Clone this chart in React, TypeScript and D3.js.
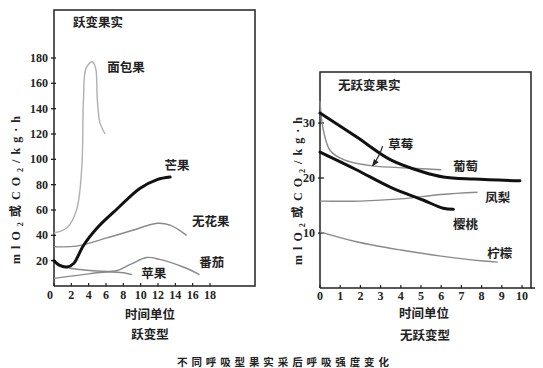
import React from 'react';
import * as d3 from 'd3';

// ---- climacteric (left) ----
const leftXTicks = [0, 2, 4, 6, 8, 10, 12, 14, 16, 18];
const leftYTicks = [20, 40, 60, 80, 100, 120, 140, 160, 180];

const breadfruit = [[0, 42], [1.5, 46], [2.6, 60], [3.2, 93], [3.4, 147], [3.7, 172], [4.4, 177], [4.8, 172], [5.0, 147], [5.3, 129], [5.9, 120]];
const mango = [[0, 20], [0.6, 16.5], [1.5, 15], [2.3, 18], [2.8, 24], [3.4, 32], [5, 46], [7.3, 61], [9.9, 77], [11.9, 84], [13.4, 86]];
const fig = [[0, 31], [2.6, 31.5], [6.1, 38], [9.1, 44], [11.9, 49.5], [13.4, 48], [15.3, 40]];
const tomato = [[0, 19], [1.3, 15], [3, 13], [4.5, 12], [7.2, 12], [8.8, 17], [10.7, 22.5], [12.2, 21], [14.9, 15], [16.8, 9]];
const apple = [[0, 6], [3.3, 9], [6.1, 11], [8, 10.5], [9, 9]];

const leftLabels = [
  { name: '面包果', x: 8.3, y: 173 },
  { name: '芒果', x: 14.2, y: 96 },
  { name: '无花果', x: 18.1, y: 52 },
  { name: '番茄', x: 18.2, y: 19 },
  { name: '苹果', x: 11.5, y: 11 },
];

// ---- non-climacteric (right) ----
const rightXTicks = [0, 1, 2, 3, 4, 5, 6, 7, 8, 9, 10];
const rightYTicks = [10, 20, 30];

const grape = [[0, 31.8], [1.8, 27.5], [3.5, 23.3], [5.1, 21.1], [6.1, 20.2], [7.6, 19.8], [9.9, 19.5]];
const cherry = [[0, 24.7], [1.8, 21.5], [3.5, 18.3], [5.1, 16], [6.1, 14.5], [6.6, 14.3]];
const strawberry = [[0, 34], [0.15, 29], [0.5, 25], [1.2, 23.3], [2.6, 22.2], [4.5, 21.8], [6, 21.5]];
const pineapple = [[0, 15.8], [2, 15.8], [4, 16.2], [6, 17], [7.8, 17.4]];
const lemon = [[0, 10.2], [1.8, 8.4], [4, 6.9], [6, 5.8], [8.1, 4.9], [8.8, 4.7]];

const rightLabels = [
  { name: '草莓', x: 4.0, y: 26.2 },
  { name: '葡萄', x: 7.2, y: 22.2 },
  { name: '凤梨', x: 8.8, y: 16.7 },
  { name: '樱桃', x: 7.2, y: 11.8 },
  { name: '柠檬', x: 8.9, y: 6.4 },
];

const CJK = '"Noto Sans CJK SC", sans-serif';
const NUM = '"Liberation Serif", serif';

const YLabel = ({ x, y }) => (
  <text transform={`translate(${x},${y}) rotate(-90)`} textAnchor="middle" fontFamily={NUM}
    fontWeight="bold" fontSize={12} textLength={148} lengthAdjust="spacing" fill="#222">
    mlO<tspan fontSize={8} dy={3}>2</tspan><tspan dy={-3} fontFamily={CJK}>或</tspan>CO<tspan fontSize={8} dy={3}>2</tspan><tspan dy={-3}>/kg·h</tspan>
  </text>
);

export default function App() {
  const lx = d3.scaleLinear().domain([0, 18]).range([54, 210]);
  const ly = d3.scaleLinear().domain([0, 180]).range([286, 58]);
  const rx = d3.scaleLinear().domain([0, 10]).range([320, 522]);
  const ry = d3.scaleLinear().domain([0, 30]).range([288, 123]);

  const lLine = d3.line().x(d => lx(d[0])).y(d => ly(d[1])).curve(d3.curveCatmullRom);
  const rLine = d3.line().x(d => rx(d[0])).y(d => ry(d[1])).curve(d3.curveCatmullRom);

  const thick = { fill: 'none', stroke: '#111', strokeWidth: 3, strokeLinecap: 'round' };
  const thin = { fill: 'none', stroke: '#8a8a8a', strokeWidth: 1.4 };

  // arrow to strawberry curve
  const ax0 = rx(3.1), ay0 = ry(25.8), ax1 = rx(2.6), ay1 = ry(22.2);

  return (
    <svg width={543} height={368} style={{ position: 'absolute', left: 0, top: 0, background: '#fff' }}>
      <defs>
        <marker id="ah" viewBox="0 0 10 10" refX="9" refY="5" markerWidth="6" markerHeight="6" orient="auto">
          <path d="M0,1 L10,5 L0,9 z" fill="#222" />
        </marker>
      </defs>

      {/* left panel frame and axes */}
      <path d={`M${lx(0)},${ly(0)} V10 H255 V${ly(0)} H${lx(0)}`} fill="none" stroke="#222" strokeWidth={1.5} />
      {leftYTicks.map(t => (
        <g key={t}>
          <line x1={lx(0) - 3} x2={lx(0) + 2} y1={ly(t)} y2={ly(t)} stroke="#222" strokeWidth={1.3} />
          <text x={lx(0) - 6} y={ly(t) + 4} textAnchor="end" fontFamily={NUM} fontWeight="bold" fontSize={12} fill="#222">{t}</text>
        </g>
      ))}
      {leftXTicks.map(t => (
        <g key={t}>
          <line x1={lx(t)} x2={lx(t)} y1={ly(0)} y2={ly(0) - 3} stroke="#222" strokeWidth={1.2} />
          <text x={lx(t) - (t === 0 ? 4 : 0)} y={ly(0) + 13} textAnchor="middle" fontFamily={NUM} fontWeight="bold" fontSize={12} fill="#222">{t}</text>
        </g>
      ))}
      <text x={73} y={27} fontFamily={CJK} fontWeight="bold" fontSize={12.5} fill="#222">跃变果实</text>
      <YLabel x={20} y={190} />
      <text x={150} y={319} textAnchor="middle" fontFamily={CJK} fontWeight="bold" fontSize={12.5} fill="#222">时间单位</text>
      <text x={150} y={339} textAnchor="middle" fontFamily={CJK} fontWeight="bold" fontSize={12.5} fill="#222">跃变型</text>

      <path d={lLine(breadfruit)} {...thin} stroke="#b0b0b0" />
      <path d={lLine(fig)} {...thin} />
      <path d={lLine(tomato)} {...thin} />
      <path d={lLine(apple)} {...thin} />
      <path d={lLine(mango)} {...thick} />
      {leftLabels.map(l => (
        <text key={l.name} x={lx(l.x)} y={ly(l.y)} textAnchor="middle" dominantBaseline="central"
          fontFamily={CJK} fontWeight="bold" fontSize={12.5} fill="#222">{l.name}</text>
      ))}

      {/* right panel frame and axes */}
      <path d={`M${rx(0)},${ry(0)} V72 H531 V${ry(0)} H${rx(0)}`} fill="none" stroke="#222" strokeWidth={1.5} />
      <line x1={531} x2={535} y1={ry(0)} y2={ry(0)} stroke="#222" strokeWidth={1.5} />
      {rightYTicks.map(t => (
        <g key={t}>
          <line x1={rx(0) - 2} x2={rx(0) + 4} y1={ry(t)} y2={ry(t)} stroke="#222" strokeWidth={1.3} />
          <text x={rx(0) - 5} y={ry(t) + 4} textAnchor="end" fontFamily={NUM} fontWeight="bold" fontSize={12} fill="#222">{t}</text>
        </g>
      ))}
      {rightXTicks.map(t => (
        <g key={t}>
          <line x1={rx(t)} x2={rx(t)} y1={ry(0)} y2={ry(0) - 3} stroke="#222" strokeWidth={1.2} />
          <text x={rx(t)} y={ry(0) + 12} textAnchor="middle" fontFamily={NUM} fontWeight="bold" fontSize={12} fill="#222">{t}</text>
        </g>
      ))}
      <text x={338} y={90} fontFamily={CJK} fontWeight="bold" fontSize={12.5} fill="#222">无跃变果实</text>
      <YLabel x={302} y={191} />
      <text x={424} y={318} textAnchor="middle" fontFamily={CJK} fontWeight="bold" fontSize={12.5} fill="#222">时间单位</text>
      <text x={425} y={340} textAnchor="middle" fontFamily={CJK} fontWeight="bold" fontSize={12.5} fill="#222">无跃变型</text>

      <path d={rLine(strawberry)} {...thin} />
      <path d={rLine(pineapple)} {...thin} />
      <path d={rLine(lemon)} {...thin} />
      <path d={rLine(grape)} {...thick} />
      <path d={rLine(cherry)} {...thick} />
      <path d={`M${ax0},${ay0} Q${ax0 - 3},${(ay0 + ay1) / 2} ${ax1},${ay1}`} fill="none" stroke="#222" strokeWidth={1.2} markerEnd="url(#ah)" />
      {rightLabels.map(l => (
        <text key={l.name} x={rx(l.x)} y={ry(l.y)} textAnchor="middle" dominantBaseline="central"
          fontFamily={CJK} fontWeight="bold" fontSize={12.5} fill="#222">{l.name}</text>
      ))}

      <text x={283} y={366} textAnchor="middle" fontFamily={CJK} fontWeight="bold" fontSize={10.5}
        textLength={212} lengthAdjust="spacing" fill="#222">不同呼吸型果实采后呼吸强度变化</text>
    </svg>
  );
}
